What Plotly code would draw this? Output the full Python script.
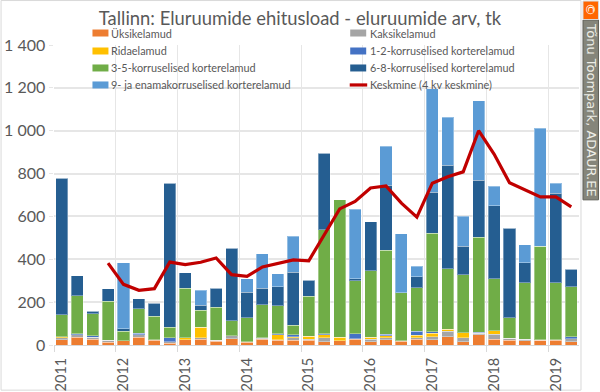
import numpy as np
import plotly.graph_objects as go

years = ["2011","2012","2013","2014","2015","2016","2017","2018","2019"]
quarters = [f"{y} Q{q}" for y in years for q in (1,2,3,4)][:34]

yksik  = [25,36,26,13,19,36,23,9,25,26,17,30,14,27,22,22,22,16,19,27,16,25,17,27,25,39,16,48,27,22,20,22,23,16]
kaksik = [8,12,10,9,2,12,2,7,0,8,5,14,2,4,3,11,6,18,0,3,12,9,3,7,14,26,18,8,24,9,8,0,2,14]
rida   = [6,0,0,0,0,0,0,0,9,48,0,0,0,3,23,6,14,14,18,0,9,10,0,11,17,8,23,0,16,0,0,3,0,0]
k12    = [0,5,8,0,0,8,0,18,0,0,0,0,0,0,4,8,0,5,0,23,0,7,0,20,6,0,0,4,0,0,0,0,0,9]
k35    = [102,177,101,182,44,114,109,48,230,80,154,70,112,153,132,46,185,485,640,246,310,391,223,203,460,283,271,444,243,97,263,435,266,232]
k68    = [637,94,12,58,10,45,62,673,73,23,90,338,118,79,88,247,75,358,0,11,228,303,0,51,192,484,134,266,340,418,93,0,417,82]
k9     = [0,0,0,0,310,0,0,0,0,70,0,0,64,160,61,167,0,0,0,323,0,183,276,48,481,224,138,369,92,0,83,552,48,0]
keskmine = [None,None,None,382,283,255,263,387,375,386,406,328,320,364,380,397,393,515,635,670,733,742,662,597,755,785,808,1000,891,757,723,691,691,645]

names = ["Üksikelamud","Kaksikelamud","Ridaelamud","1-2-korruselised korterelamud",
         "3-5-korruselised korterelamud","6-8-korruselised korterelamud",
         "9- ja enamakorruselised korterelamud"]
series = [yksik,kaksik,rida,k12,k35,k68,k9]
colors = ["#ED7D31","#A5A5A5","#FFC000","#4472C4","#70AD47","#255E91","#5B9BD5"]
line_name = "Keskmine (4 kv keskmine)"
y_ticks = [0,200,400,600,800,1000,1200,1400]
y_labels = ["0","200","400","600","800","1 000","1 200","1 400"]
title = "Tallinn: Eluruumide ehitusload - eluruumide arv, tk"
credit = "Tõnu Toompark, ADAUR.EE"

W, H = 600, 392
L, R, T, B = 53.5, 579, 45, 345.3
FONT = "Lato"
x = np.arange(len(quarters))
px = lambda v: (v-L)/(R-L)
py = lambda v: (B-v)/(B-T)

fig = go.Figure()
for n,s,c in zip(names,series,colors):
    fig.add_bar(x=x, y=s, name=n, marker=dict(color=c, line=dict(color="rgba(255,255,255,0.35)", width=1)),
                customdata=quarters, showlegend=False)
fig.add_scatter(x=x, y=keskmine, name=line_name, mode="lines",
                line=dict(color="#C00000", width=3.2), showlegend=False)

fig.update_layout(
    width=W, height=H, autosize=False, barmode="stack", bargap=0.22,
    paper_bgcolor="white", plot_bgcolor="white",
    margin=dict(l=L, r=W-R, t=T, b=H-B, pad=0, autoexpand=False),
    font=dict(family=FONT, color="#595959"),
    title=dict(text=title, font=dict(size=18.4, color="#595959", family=FONT),
               x=300/W, xanchor="center", y=1-18.5/H, yanchor="middle"),
)
fig.update_xaxes(range=[-0.5,33.5], tickmode="array", tickvals=x[::4].tolist(), ticktext=years,
                 tickangle=-90, tickfont=dict(size=14.5, color="#595959"), ticks="", showgrid=False,
                 showline=True, linecolor="#D9D9D9", linewidth=1, zeroline=False, ticklabelstandoff=6, automargin=False,
                 minor=dict(tick0=-0.5, dtick=4, showgrid=True, gridcolor="#E6E6E6", gridwidth=1,
                            ticks="outside", ticklen=6, tickcolor="#D9D9D9"))
fig.update_yaxes(range=[0,1400], tickmode="array", tickvals=y_ticks, ticktext=y_labels, automargin=False,
                 tickfont=dict(size=16, color="#595959"), showgrid=True, gridcolor="#E6E6E6", gridwidth=1.5,
                 ticks="outside", ticklen=4.5, tickcolor="#E6E6E6", zeroline=False, showline=False)

shapes, ann = [], []
# hand-placed two-column legend, as in the reference
cols = [(92,109),(350,368)]
rows = [33,51,68,85]
entries = [(names[0],colors[0],0,0),(names[1],colors[1],1,0),(names[2],colors[2],0,1),(names[3],colors[3],1,1),
           (names[4],colors[4],0,2),(names[5],colors[5],1,2),(names[6],colors[6],0,3),(line_name,"#C00000",1,3)]
for n,c,ci,ri in entries:
    x0,xt = cols[ci]; yc = rows[ri]
    if n == line_name:
        shapes.append(dict(type="line",xref="paper",yref="paper",x0=px(x0-0.5),x1=px(x0+17),
                           y0=py(yc),y1=py(yc),line=dict(color=c,width=3.2)))
    else:
        shapes.append(dict(type="rect",xref="paper",yref="paper",x0=px(x0),x1=px(x0+16),
                           y0=py(yc-3.5),y1=py(yc+3.5),fillcolor=c,line=dict(width=0)))
    ann.append(dict(text=n,xref="paper",yref="paper",x=px(xt),y=py(yc),xanchor="left",yanchor="middle",
                    showarrow=False,font=dict(size=10.9,color="#595959",family=FONT)))
# chart frame and credit strip
shapes.append(dict(type="rect",xref="paper",yref="paper",x0=px(0.5),x1=px(581),y0=py(390.5),y1=py(0.5),
                   line=dict(color="#D9D9D9",width=1),fillcolor="rgba(0,0,0,0)",layer="below"))
shapes.append(dict(type="rect",xref="paper",yref="paper",x0=px(583),x1=px(598.5),y0=py(200),y1=py(20),
                   fillcolor="#85857A",line=dict(color="#5F5F58",width=1)))
shapes.append(dict(type="rect",xref="paper",yref="paper",x0=px(583),x1=px(598.5),y0=py(19.5),y1=py(1),
                   fillcolor="#FF6600",line=dict(color="#D9D9D9",width=1)))
ann.append(dict(text=credit,xref="paper",yref="paper",x=px(591),y=py(110),textangle=90,xanchor="center",yanchor="middle",
                showarrow=False,font=dict(size=13,color="#EDEDE6",family="DejaVu Sans")))
ann.append(dict(text="©",xref="paper",yref="paper",x=px(591),y=py(10),xanchor="center",yanchor="middle",textangle=90,
                showarrow=False,font=dict(size=13,color="#FFFFFF",family="DejaVu Sans")))
fig.update_layout(shapes=shapes, annotations=ann)
fig.write_html("out.html", config={"displayModeBar": False},
               post_script="document.body.style.margin='0';window.dispatchEvent(new Event('resize'));")
